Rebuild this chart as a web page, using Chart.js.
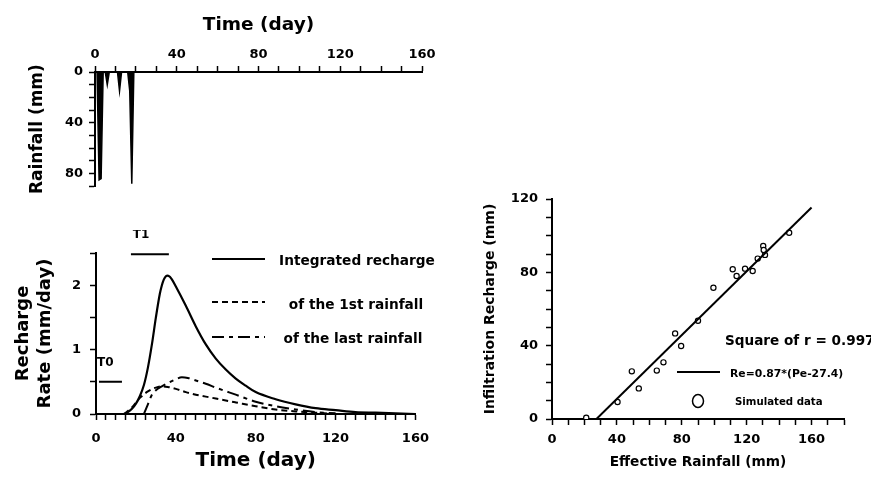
<!DOCTYPE html>
<html>
<head>
<meta charset="utf-8">
<script src="https://cdn.jsdelivr.net/npm/chart.js@4.4.0/dist/chart.umd.min.js"></script>
<style>
    html, body { margin: 0; padding: 0; background: #fff; }
    body { width: 871px; height: 479px; position: relative; overflow: hidden; }
    canvas { position: absolute; }
</style>
</head>
<body>
<canvas id="rainChart" width="440" height="200" style="left:0;top:0"></canvas>
<canvas id="rechargeChart" width="440" height="249" style="left:0;top:230px"></canvas>
<canvas id="fitChart" width="401" height="299" style="left:470px;top:180px"></canvas>
<script>
// ========================================
// DATA
// ========================================

// daily rainfall (top panel)
const rainDays = [0, 1, 2, 3, 4, 5, 6, 7, 11, 12, 13, 16, 17, 18, 19];
const rainMm   = [0, 0, 85, 84, 0, 0, 10, 0, 0, 15, 0, 0, 15, 88, 0];

// recharge rate curves (mm/day)
const intDays  = [14, 16, 18, 20, 22, 24, 26, 28, 30, 32, 33, 34, 35, 36, 37, 38, 40, 45, 50, 55, 60, 65, 70, 75, 80, 90, 100, 110, 120, 130, 140, 150, 160];
const intRate  = [0, 0.03, 0.08, 0.16, 0.28, 0.45, 0.72, 1.08, 1.5, 1.87, 2.0, 2.09, 2.14, 2.15, 2.13, 2.09, 1.98, 1.68, 1.36, 1.08, 0.86, 0.69, 0.55, 0.44, 0.34, 0.23, 0.15, 0.09, 0.06, 0.03, 0.02, 0.01, 0];
const firstDays = [14, 18, 22, 26, 30, 33, 36, 40, 45, 50, 55, 60, 70, 80, 90, 100, 110, 120];
const firstRate = [0, 0.1, 0.25, 0.35, 0.41, 0.43, 0.42, 0.39, 0.34, 0.3, 0.27, 0.24, 0.18, 0.12, 0.07, 0.04, 0.02, 0];
const lastDays = [24, 26, 28, 30, 33, 36, 40, 43, 46, 50, 55, 60, 70, 80, 90, 100, 110, 120];
const lastRate = [0, 0.15, 0.3, 0.37, 0.43, 0.48, 0.54, 0.57, 0.56, 0.52, 0.47, 0.41, 0.3, 0.19, 0.12, 0.07, 0.03, 0.01];

// T0 / T1 period markers
const t0Days = [1.5, 13];
const t0Level = 0.5;
const t1Days = [17.5, 36.5];
const t1Level = 2.48;

// effective rainfall vs infiltration recharge (right panel)
const effRain  = [21.1, 40.4, 49.2, 53.5, 64.6, 68.7, 75.9, 79.6, 90, 99.5, 111.4, 113.8, 119, 123.7, 126.8, 130.2, 130.5, 131.3, 146.2];
const recharge = [0.7, 9.3, 26, 16.7, 26.4, 30.9, 46.7, 39.8, 53.6, 71.6, 81.7, 78, 82, 80.7, 87.5, 94.4, 92.2, 89.5, 101.6];
const fitPe = [27.4, 160];
const fitRe = [0, 115.4];

// tick labels
const timeLabels = [0, 40, 80, 120, 160];
const rainLabels = [0, 40, 80];
const rateLabels = [0, 1, 2];
const effLabels = [0, 40, 80, 120, 160];
const rechLabels = [0, 40, 80, 120];

// ========================================
// HELPERS
// ========================================

const FONT = 'DejaVu Sans, Liberation Sans, sans-serif';

function pts(xs, ys) {
    return xs.map((x, i) => ({ x: x, y: ys[i] }));
}

function axis(opts) {
    return Object.assign({
        type: 'linear',
        border: { display: true, color: '#000', width: 2 },
        grid: { drawOnChartArea: false, drawTicks: true, tickLength: 6, tickColor: '#000', tickWidth: 1.5 }
    }, opts);
}

function bold(size, lh) {
    return { family: FONT, size: size, weight: 'bold', lineHeight: lh || 1.2 };
}

function drawText(ctx, text, x, y, size, align) {
    ctx.save();
    ctx.fillStyle = '#000';
    ctx.font = 'bold ' + size + 'px ' + FONT;
    ctx.textAlign = align || 'left';
    ctx.textBaseline = 'middle';
    ctx.fillText(text, x, y);
    ctx.restore();
}

function drawSample(ctx, x1, x2, y, dash) {
    ctx.save();
    ctx.strokeStyle = '#000';
    ctx.lineWidth = 2;
    ctx.setLineDash(dash);
    ctx.beginPath();
    ctx.moveTo(x1, y);
    ctx.lineTo(x2, y);
    ctx.stroke();
    ctx.restore();
}

Chart.defaults.font.family = FONT;
Chart.defaults.color = '#000';

const baseOptions = {
    responsive: false,
    animation: false,
    plugins: { legend: { display: false }, tooltip: { enabled: false } }
};

// ========================================
// TOP: RAINFALL
// ========================================

new Chart(document.getElementById('rainChart'), {
    type: 'line',
    data: {
        datasets: [{
            data: pts(rainDays, rainMm),
            borderColor: '#000',
            backgroundColor: '#000',
            borderWidth: 1.5,
            fill: 'origin',
            pointRadius: 0,
            tension: 0
        }]
    },
    options: Object.assign({}, baseOptions, {
        layout: { padding: { left: 0, top: 0, right: 18, bottom: 7 } },
        scales: {
            x: axis({
                position: 'top',
                min: 0, max: 160,
                afterFit: s => { s.height = 72; },
                ticks: {
                    stepSize: 10, maxTicksLimit: 100, autoSkip: false, maxRotation: 0,
                    padding: 4, font: bold(13),
                    callback: v => timeLabels.includes(v) ? v : ''
                },
                title: { display: true, text: 'Time (day)', font: bold(18.5), padding: { top: 14, bottom: 0 } }
            }),
            y: axis({
                min: 0, max: 90, reverse: true,
                afterFit: s => { s.width = 95; },
                ticks: {
                    stepSize: 10, maxTicksLimit: 100, autoSkip: false,
                    padding: 6, font: bold(13),
                    callback: v => rainLabels.includes(v) ? v : ''
                },
                title: { display: true, text: 'Rainfall (mm)', font: bold(17), padding: { top: 27, bottom: 0 } }
            })
        }
    })
});

// ========================================
// BOTTOM: RECHARGE RATE
// ========================================

new Chart(document.getElementById('rechargeChart'), {
    type: 'line',
    data: {
        datasets: [
            { data: pts(intDays, intRate), borderColor: '#000', borderWidth: 2.2, pointRadius: 0, cubicInterpolationMode: 'monotone' },
            { data: pts(firstDays, firstRate), borderColor: '#000', borderWidth: 2, borderDash: [6, 4], pointRadius: 0, cubicInterpolationMode: 'monotone' },
            { data: pts(lastDays, lastRate), borderColor: '#000', borderWidth: 2, borderDash: [12, 5, 4, 5], pointRadius: 0, cubicInterpolationMode: 'monotone' },
            { data: t0Days.map(d => ({ x: d, y: t0Level })), borderColor: '#000', borderWidth: 2, pointRadius: 0 },
            { data: t1Days.map(d => ({ x: d, y: t1Level })), borderColor: '#000', borderWidth: 2, pointRadius: 0, clip: 4 }
        ]
    },
    options: Object.assign({}, baseOptions, {
        layout: { padding: { left: 0, top: 23, right: 17, bottom: 0 } },
        scales: {
            x: axis({
                min: 0, max: 160,
                afterFit: s => { s.height = 65; },
                ticks: {
                    stepSize: 5, maxTicksLimit: 100, autoSkip: false, maxRotation: 0,
                    padding: 11, font: bold(13),
                    callback: v => timeLabels.includes(v) ? v : ''
                },
                title: { display: true, text: 'Time (day)', font: bold(20), padding: { top: 0, bottom: 6 } }
            }),
            y: axis({
                min: 0, max: 2.5,
                afterFit: s => { s.width = 96; },
                ticks: {
                    stepSize: 0.5, maxTicksLimit: 100, autoSkip: false,
                    padding: 9, font: bold(13),
                    callback: v => rateLabels.includes(v) ? v : ''
                },
                title: { display: true, text: ['Recharge', 'Rate (mm/day)'], font: bold(18, 1.2), padding: { top: 13, bottom: 0 } }
            })
        }
    }),
    plugins: [{
        id: 'rechargeNotes',
        afterDraw(chart) {
            const ctx = chart.ctx;
            drawText(ctx, 'T0', 97, 133, 12, 'left');
            drawText(ctx, 'T1', 141, 5, 12, 'center');
            drawSample(ctx, 212, 265, 29, []);
            drawText(ctx, 'Integrated recharge', 357, 31, 13.7, 'center');
            drawSample(ctx, 212, 265, 72, [6, 4]);
            drawText(ctx, 'of the 1st rainfall', 356, 75, 13.7, 'center');
            drawSample(ctx, 212, 265, 107, [12, 5, 4, 5]);
            drawText(ctx, 'of the last rainfall', 353, 109, 13.7, 'center');
        }
    }]
});

// ========================================
// RIGHT: EFFECTIVE RAINFALL VS RECHARGE
// ========================================

new Chart(document.getElementById('fitChart'), {
    type: 'scatter',
    data: {
        datasets: [
            {
                data: pts(fitPe, fitRe),
                showLine: true, borderColor: '#000', borderWidth: 2, pointRadius: 0
            },
            {
                data: pts(effRain, recharge),
                pointStyle: 'circle', pointRadius: 2.6,
                backgroundColor: '#fff', borderColor: '#000', borderWidth: 1.2
            }
        ]
    },
    options: Object.assign({}, baseOptions, {
        layout: { padding: { left: 0, top: 19, right: 27, bottom: 0 } },
        scales: {
            x: axis({
                min: 0, max: 180,
                afterFit: s => { s.height = 60; },
                ticks: {
                    stepSize: 10, maxTicksLimit: 100, autoSkip: false, maxRotation: 0,
                    padding: 7, font: bold(13),
                    callback: v => effLabels.includes(v) ? v : ''
                },
                title: { display: true, text: 'Effective Rainfall (mm)', font: bold(13.7), padding: { top: 0, bottom: 8 } }
            }),
            y: axis({
                min: 0, max: 120,
                afterFit: s => { s.width = 82; },
                ticks: {
                    stepSize: 10, maxTicksLimit: 100, autoSkip: false,
                    padding: 8, font: bold(13),
                    callback: v => rechLabels.includes(v) ? v : ''
                },
                title: { display: true, text: 'Infiltration Recharge (mm)', font: bold(14), padding: { top: 12, bottom: 0 } }
            })
        }
    }),
    plugins: [{
        id: 'fitNotes',
        afterDraw(chart) {
            const ctx = chart.ctx;
            drawText(ctx, 'Square of r = 0.997', 255, 161, 13.6, 'left');
            drawSample(ctx, 207, 250, 192, []);
            drawText(ctx, 'Re=0.87*(Pe-27.4)', 260, 194, 10.8, 'left');
            ctx.save();
            ctx.strokeStyle = '#000';
            ctx.lineWidth = 1.5;
            ctx.beginPath();
            ctx.ellipse(228, 221, 5.5, 6.5, 0, 0, Math.PI * 2);
            ctx.stroke();
            ctx.restore();
            drawText(ctx, 'Simulated data', 265, 222, 10.2, 'left');
        }
    }]
});
</script>
</body>
</html>
